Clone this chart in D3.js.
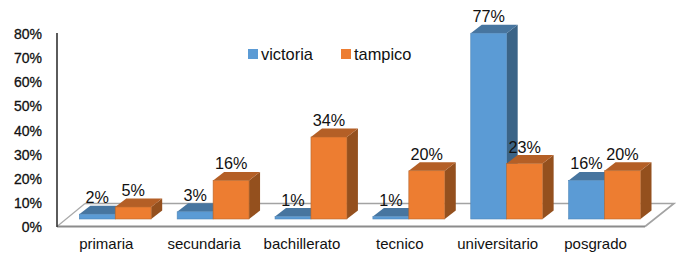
<!DOCTYPE html>
<html><head><meta charset="utf-8">
<script src="https://cdn.jsdelivr.net/npm/d3@7"></script>
<style>html,body{margin:0;padding:0;background:#fff}svg{display:block}text{font-family:"Liberation Sans",Arial,sans-serif;fill:#111}</style>
</head><body><svg id="c" width="679" height="262"></svg>
<script>
const categories=["primaria","secundaria","bachillerato","tecnico","universitario","posgrado"];
const seriesNames=["victoria","tampico"];
const victoria=[2,3,1,1,77,16];
const tampico=[5,16,34,20,23,20];
const tickValues=[0,10,20,30,40,50,60,70,80];
const colors={victoria:{front:"#5b9bd5",top:"#47759f",side:"#3b6487"},tampico:{front:"#ed7d31",top:"#b45f26",side:"#94501e"}};
const depthX=11,depthY=8.5;
const svg=d3.select("#c");
const x=d3.scaleBand().domain(categories).range([79.3,640.5]).paddingInner(26/98);
const x1=d3.scaleBand().domain(seriesNames).range([0,x.bandwidth()]);
const axisY=d3.scaleLinear().domain([0,80]).range([226.5,33.5]);
const barY=d3.scaleLinear().domain([0,80]).range([219,26]);
// floor
const floor=svg.append("g");
floor.append("path").attr("d","M57,226.5L645,226.5L674,203.5L85,203.5Z").attr("fill","#fff").attr("stroke","none");
floor.append("path").attr("d","M85,203.5L674,203.5L645,226.5").attr("fill","none").attr("stroke","#a3a3a3").attr("stroke-width",1.6);
floor.append("path").attr("d","M57,226.5L85,203.5").attr("fill","none").attr("stroke","#a8a8a8").attr("stroke-width",1.2);
floor.append("path").attr("d","M57,226.5L645,226.5").attr("fill","none").attr("stroke","#8c8c8c").attr("stroke-width",1.8);
floor.append("path").attr("d","M57,33V227").attr("fill","none").attr("stroke","#333").attr("stroke-width",1.6);
// y ticks
const yAxis=d3.axisLeft(axisY).tickValues(tickValues).tickFormat(d=>d+"%").tickSize(0).tickPadding(0);
const yg=svg.append("g").attr("transform","translate(42,0)").call(yAxis);
yg.select(".domain").remove();
yg.selectAll("text").attr("font-size",14).style("font-family",'"Liberation Sans",Arial,sans-serif').style("fill","#111").style("stroke","#111").style("stroke-width",0.3).attr("dy","0.36em");
// bars
const rows=categories.flatMap((c,i)=>[{c,s:"victoria",v:victoria[i]},{c,s:"tampico",v:tampico[i]}]);
const g=svg.append("g");
const bar=g.selectAll("g").data(rows).join("g");
const L=d=>x(d.c)+x1(d.s),R=d=>L(d)+x1.bandwidth(),T=d=>barY(d.v),B=()=>barY(0);
bar.append("path").attr("fill",d=>colors[d.s].side).attr("d",d=>`M${R(d)},${T(d)}L${R(d)+depthX},${T(d)-depthY}L${R(d)+depthX},${B()-depthY}L${R(d)},${B()}Z`);
bar.append("path").attr("fill",d=>colors[d.s].top).attr("d",d=>`M${L(d)},${T(d)}L${L(d)+depthX},${T(d)-depthY}L${R(d)+depthX},${T(d)-depthY}L${R(d)},${T(d)}Z`);
bar.append("rect").attr("fill",d=>colors[d.s].front).attr("stroke",d=>d.s==="victoria"?"#4f86b8":"#b4682f").attr("stroke-width",.6).attr("x",L).attr("y",T).attr("width",x1.bandwidth()).attr("height",d=>B()-T(d));
// value labels
svg.append("g").selectAll("text").data(rows).join("text").attr("text-anchor","middle").attr("font-size",16.2)
 .attr("x",d=>L(d)+x1.bandwidth()/2).attr("y",d=>T(d)-11).text(d=>d.v+"%");
// category labels
svg.append("g").selectAll("text").data(categories).join("text").attr("text-anchor","middle").attr("font-size",15)
 .attr("x",d=>x(d)+x.bandwidth()/2-9).attr("y",249).text(d=>d);
// legend
const legendX={victoria:248,tampico:341};
const lg=svg.append("g").selectAll("g").data(seriesNames).join("g").attr("transform",d=>`translate(${legendX[d]},49)`);
lg.append("rect").attr("width",10).attr("height",10).attr("fill",d=>colors[d].front);
lg.append("text").attr("x",13).attr("y",10.5).attr("font-size",16.4).text(d=>d);
</script></body></html>
